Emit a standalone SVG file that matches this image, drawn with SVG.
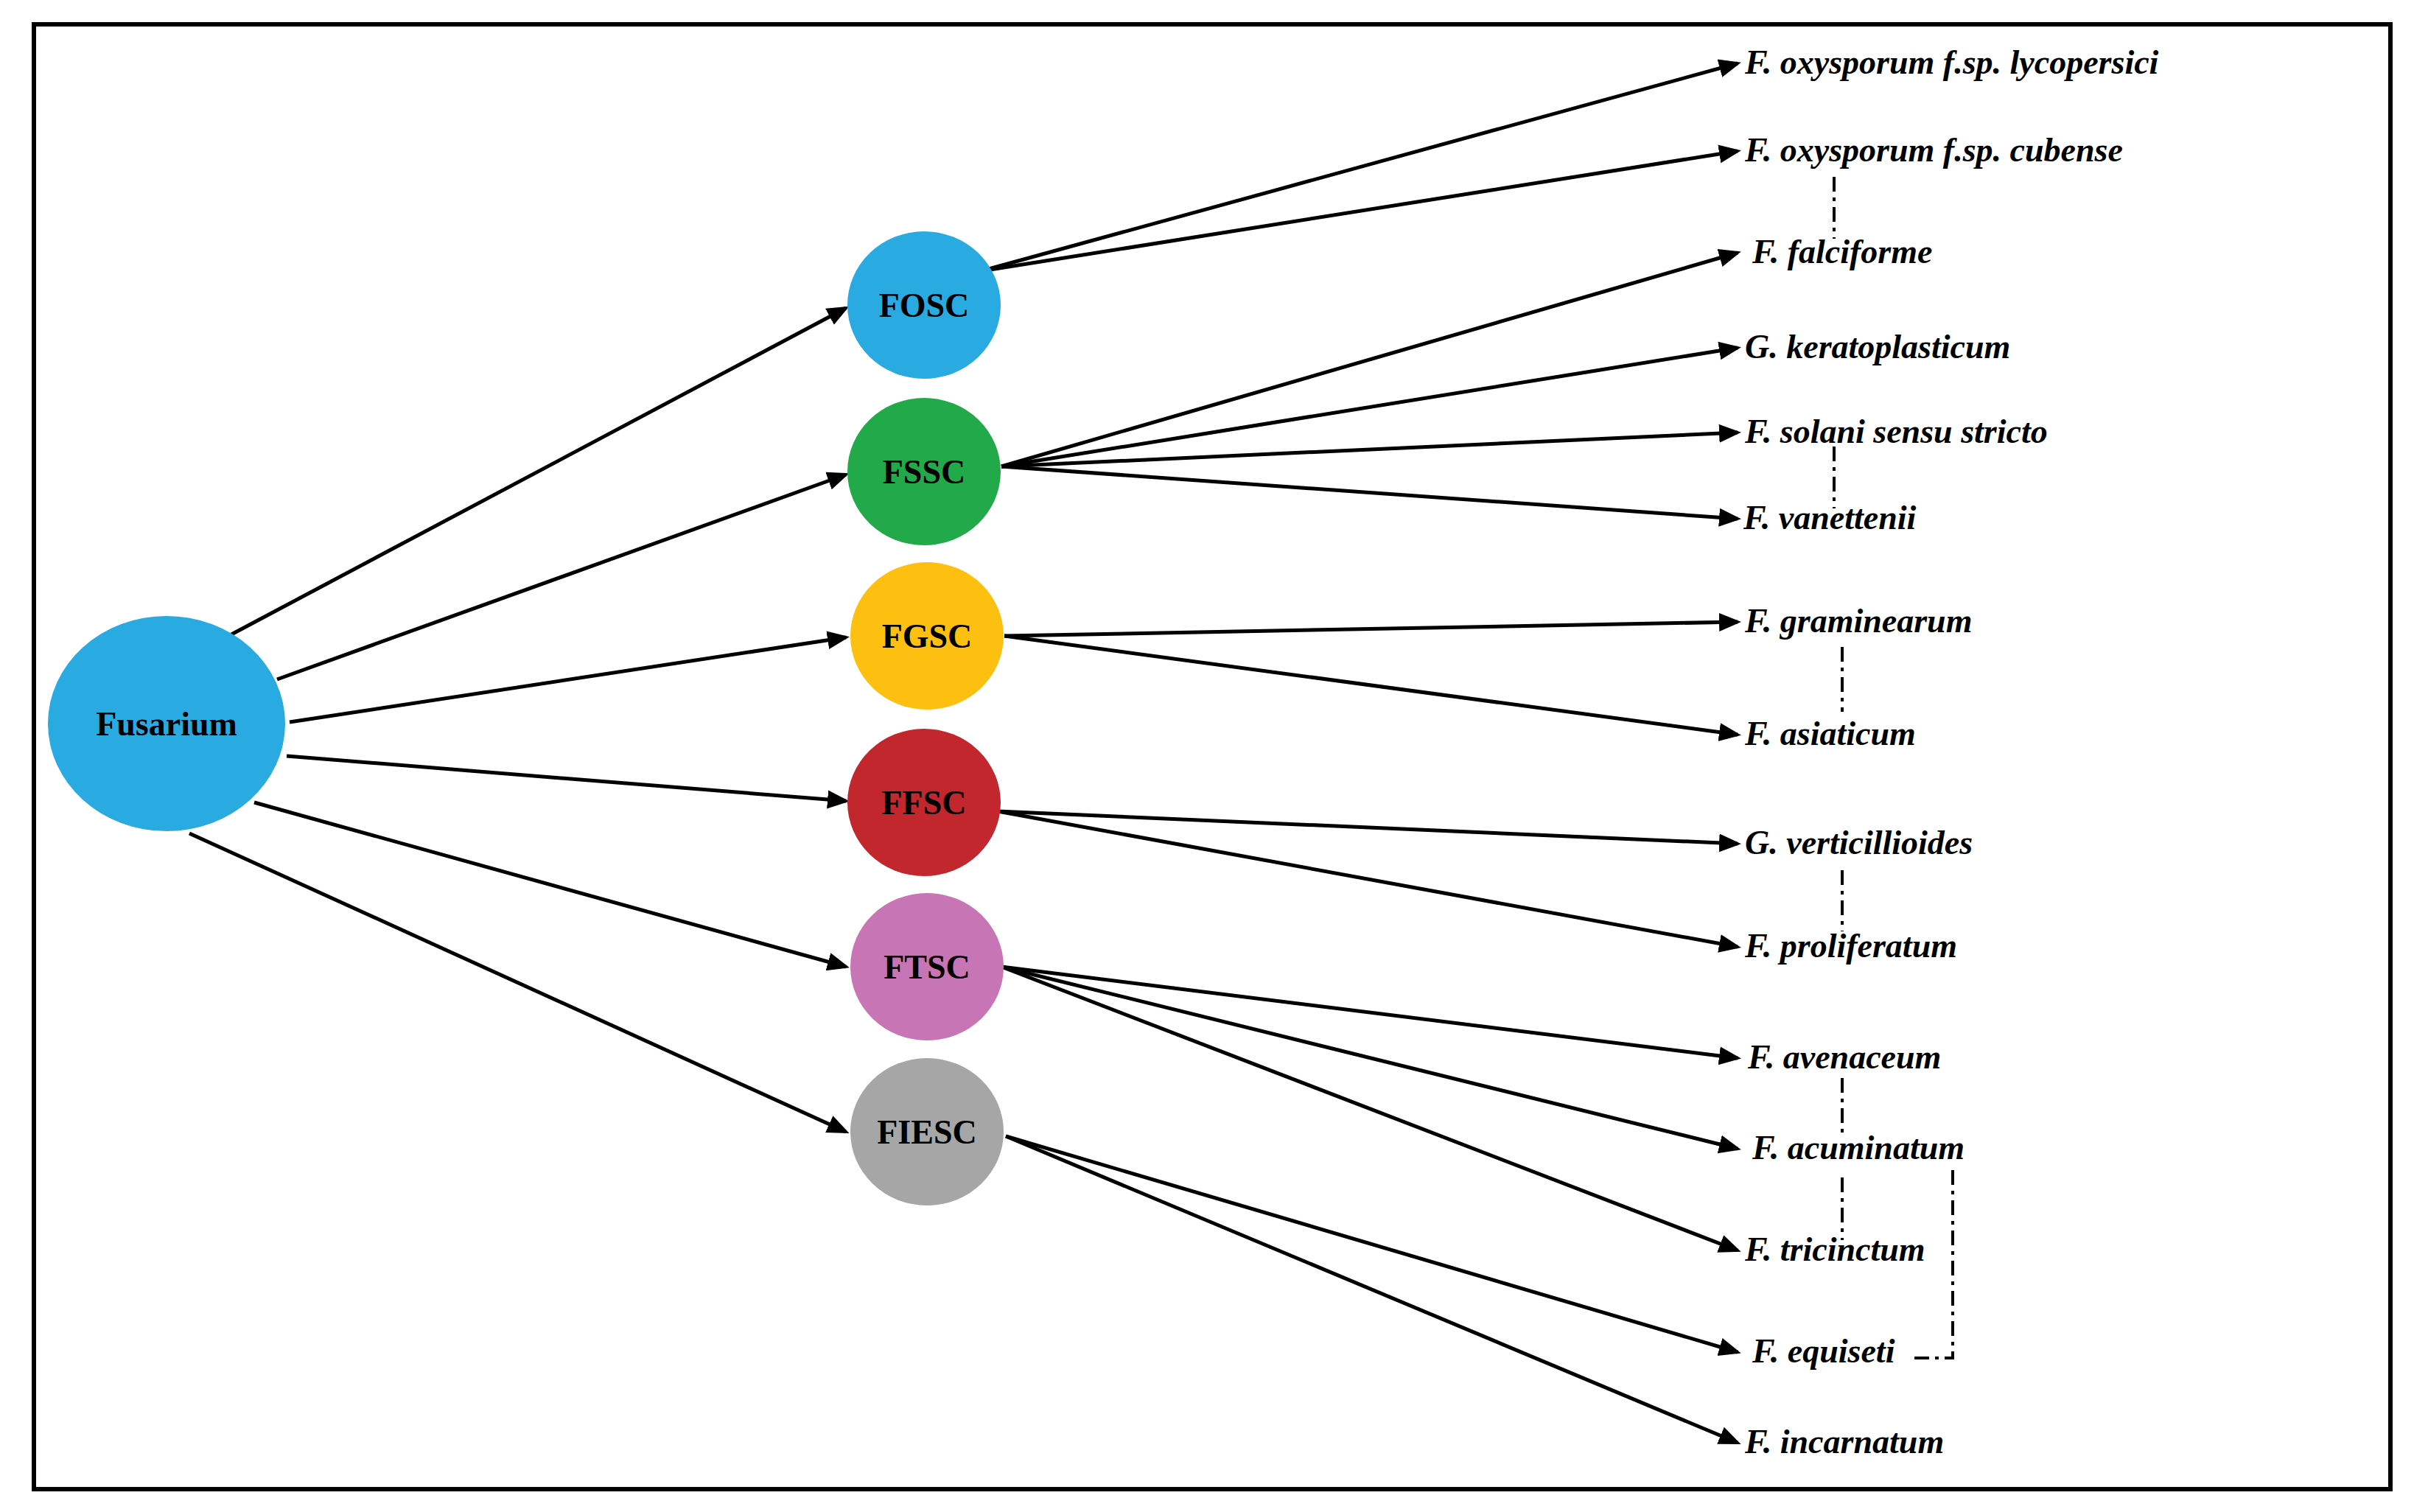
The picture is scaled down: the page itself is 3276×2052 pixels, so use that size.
<svg xmlns="http://www.w3.org/2000/svg" width="3276" height="2052" viewBox="0 0 3276 2052">
<style>
.e{stroke:#000;stroke-width:5;fill:none;marker-end:url(#a)}
.d{stroke:#000;stroke-width:4;fill:none;stroke-dasharray:20 8 5 8}
.s{font-family:"Liberation Serif",serif;font-weight:bold;font-size:46px;text-anchor:middle}
.l{font-family:"Liberation Serif",serif;font-weight:bold;font-style:italic;font-size:46px}
</style>
<defs><marker id="a" markerWidth="6" markerHeight="6" refX="5" refY="3" orient="auto"><path d="M0,0.5 L6,3 L0,5.5z" fill="#000"/></marker></defs>
<rect width="3276" height="2052" fill="#fff"/>
<rect x="46" y="33" width="3198" height="1988" fill="none" stroke="#000" stroke-width="6"/>
<g id="connectors">
<line class="e" x1="314" y1="861" x2="1148" y2="418"/>
<line class="e" x1="376" y1="922" x2="1148" y2="644"/>
<line class="e" x1="393" y1="980" x2="1148" y2="865"/>
<line class="e" x1="389" y1="1026" x2="1148" y2="1087"/>
<line class="e" x1="345" y1="1089" x2="1148" y2="1312"/>
<line class="e" x1="257" y1="1131" x2="1148" y2="1536"/>
<line class="e" x1="1331" y1="368" x2="2358" y2="86"/>
<line class="e" x1="1331" y1="368" x2="2358" y2="205"/>
<line class="e" x1="1359" y1="633" x2="2358" y2="343"/>
<line class="e" x1="1359" y1="633" x2="2358" y2="472"/>
<line class="e" x1="1359" y1="633" x2="2358" y2="587"/>
<line class="e" x1="1359" y1="633" x2="2358" y2="704"/>
<line class="e" x1="1363" y1="863" x2="2358" y2="844"/>
<line class="e" x1="1363" y1="863" x2="2358" y2="997"/>
<line class="e" x1="1354" y1="1101" x2="2358" y2="1145"/>
<line class="e" x1="1354" y1="1101" x2="2358" y2="1285"/>
<line class="e" x1="1359" y1="1312" x2="2358" y2="1436"/>
<line class="e" x1="1359" y1="1312" x2="2358" y2="1559"/>
<line class="e" x1="1359" y1="1312" x2="2358" y2="1697"/>
<line class="e" x1="1365" y1="1542" x2="2358" y2="1835"/>
<line class="e" x1="1365" y1="1542" x2="2358" y2="1958"/>
<path class="d" d="M2489,240V324 M2489,606V690 M2500,878V966 M2500,1181V1264 M2500,1463V1540 M2500,1598V1683 M2650,1588V1843H2592"/>
</g>
<g id="fusarium"><ellipse cx="226" cy="982" rx="161" ry="146" fill="#29abe2"/><text class="s" x="226" y="998" font-size="58">Fusarium</text></g>
<g id="fosc"><ellipse cx="1254" cy="414" rx="104" ry="100" fill="#29abe2"/><text class="s" x="1254" y="430">FOSC</text></g>
<g id="fssc"><ellipse cx="1254" cy="640" rx="104" ry="100" fill="#22aa4a"/><text class="s" x="1254" y="656">FSSC</text></g>
<g id="fgsc"><ellipse cx="1258" cy="863" rx="104" ry="100" fill="#fdc010"/><text class="s" x="1258" y="879">FGSC</text></g>
<g id="ffsc"><ellipse cx="1254" cy="1089" rx="104" ry="100" fill="#c1272d"/><text class="s" x="1254" y="1105">FFSC</text></g>
<g id="ftsc"><ellipse cx="1258" cy="1312" rx="104" ry="100" fill="#c875b5"/><text class="s" x="1258" y="1328">FTSC</text></g>
<g id="fiesc"><ellipse cx="1258" cy="1536" rx="104" ry="100" fill="#a6a6a6"/><text class="s" x="1258" y="1552">FIESC</text></g>
<g id="labels">
<text class="l" x="2368" y="100">F.  oxysporum f.sp.  lycopersici</text>
<text class="l" x="2368" y="219">F.  oxysporum f.sp.  cubense</text>
<text class="l" x="2378" y="357">F.  falciforme</text>
<text class="l" x="2368" y="486">G.  keratoplasticum</text>
<text class="l" x="2368" y="601">F.  solani sensu stricto</text>
<text class="l" x="2366" y="718">F.  vanettenii</text>
<text class="l" x="2368" y="858">F.  graminearum</text>
<text class="l" x="2368" y="1011">F.  asiaticum</text>
<text class="l" x="2368" y="1159">G.  verticillioides</text>
<text class="l" x="2368" y="1299">F.  proliferatum</text>
<text class="l" x="2372" y="1450">F.  avenaceum</text>
<text class="l" x="2378" y="1573">F.  acuminatum</text>
<text class="l" x="2368" y="1711">F.   tricinctum</text>
<text class="l" x="2378" y="1849">F.  equiseti</text>
<text class="l" x="2368" y="1972">F.  incarnatum</text>
</g>
</svg>
